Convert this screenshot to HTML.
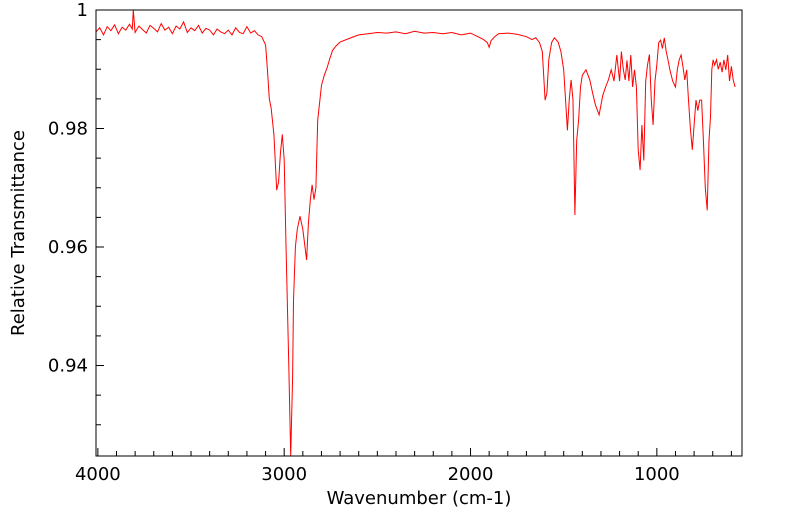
<!DOCTYPE html>
<html><head><meta charset="utf-8"><style>
html,body{margin:0;padding:0;background:#fff;}
svg{display:block;font-family:"DejaVu Sans","Liberation Sans",sans-serif;}
</style></head><body>
<svg id="chart" width="799" height="516" viewBox="0 0 799 516" xmlns="http://www.w3.org/2000/svg">
<g id="ticks"></g>
<g id="labels"></g>
<path id="line" fill="none" stroke="#ff0000" stroke-width="1"/>
<rect x="96" y="10" width="646" height="446" fill="none" stroke="#000" stroke-width="1"/>
<text x="419" y="504" font-size="18" text-anchor="middle">Wavenumber (cm-1)</text>
<text transform="translate(24,233) rotate(-90)" font-size="18" text-anchor="middle">Relative Transmittance</text>
</svg>
<script>
const wavenumbers=[4010,3990,3970,3950,3930,3910,3890,3870,3850,3830,3815,3810,3800,3780,3760,3740,3720,3700,3680,3660,3640,3620,3600,3580,3560,3540,3520,3500,3480,3460,3440,3420,3400,3380,3360,3340,3320,3300,3280,3260,3240,3220,3200,3180,3160,3140,3120,3100,3090,3080,3070,3055,3040,3030,3020,3010,3000,2990,2975,2965,2955,2950,2940,2930,2915,2900,2880,2870,2860,2850,2840,2830,2820,2800,2785,2770,2755,2740,2720,2700,2650,2600,2550,2500,2450,2400,2350,2300,2250,2200,2150,2100,2050,2000,1960,1930,1910,1900,1890,1870,1850,1800,1750,1700,1670,1650,1630,1615,1600,1590,1580,1565,1550,1530,1515,1500,1490,1480,1470,1460,1450,1440,1430,1420,1410,1400,1380,1360,1345,1330,1310,1290,1275,1260,1245,1230,1215,1200,1190,1180,1170,1160,1150,1140,1130,1120,1110,1100,1090,1080,1070,1060,1050,1040,1030,1020,1010,1000,990,980,970,960,950,940,930,915,900,890,880,870,860,850,840,830,820,810,800,790,780,770,760,750,740,730,720,712,705,698,690,680,670,660,650,640,630,620,610,600,590,580,570,560,550,543];
const transmittance=[0.9963,0.9970,0.9958,0.9972,0.9965,0.9975,0.9960,0.9971,0.9966,0.9976,0.9968,1.0000,0.9962,0.9973,0.9967,0.9961,0.9974,0.9969,0.9963,0.9977,0.9966,0.9971,0.9960,0.9973,0.9968,0.9980,0.9962,0.9970,0.9965,0.9974,0.9961,0.9969,0.9966,0.9958,0.9968,0.9963,0.9960,0.9966,0.9958,0.9970,0.9962,0.9960,0.9972,0.9961,0.9965,0.9958,0.9955,0.9941,0.9900,0.9850,0.9835,0.9790,0.9696,0.9710,0.9760,0.9790,0.9747,0.9595,0.9400,0.9247,0.9380,0.9510,0.9600,0.9629,0.9652,0.9630,0.9578,0.9640,0.9679,0.9705,0.9680,0.9700,0.9814,0.9873,0.9890,0.9902,0.9918,0.9932,0.9940,0.9946,0.9952,0.9958,0.9960,0.9962,0.9961,0.9963,0.9960,0.9964,0.9961,0.9962,0.9960,0.9962,0.9958,0.9961,0.9955,0.9950,0.9945,0.9937,0.9948,0.9955,0.9960,0.9961,0.9959,0.9955,0.9950,0.9953,0.9945,0.9930,0.9848,0.9860,0.9916,0.9945,0.9953,0.9946,0.9930,0.9899,0.9850,0.9797,0.9850,0.9882,0.9848,0.9654,0.9780,0.9814,0.9870,0.9890,0.9899,0.9882,0.9860,0.9840,0.9823,0.9856,0.9870,0.9882,0.9899,0.9880,0.9924,0.9880,0.9930,0.9900,0.9882,0.9915,0.9880,0.9924,0.9870,0.9899,0.9870,0.9764,0.9730,0.9806,0.9746,0.9880,0.9907,0.9925,0.9848,0.9806,0.9880,0.9907,0.9945,0.9949,0.9935,0.9953,0.9930,0.9916,0.9899,0.9880,0.9870,0.9899,0.9916,0.9924,0.9905,0.9882,0.9899,0.9848,0.9800,0.9764,0.9806,0.9848,0.9830,0.9848,0.9848,0.9780,0.9700,0.9662,0.9780,0.9820,0.9899,0.9916,0.9907,0.9916,0.9900,0.9912,0.9895,0.9916,0.9899,0.9924,0.9880,0.9905,0.9882,0.9870];
const xTicks=[4000,3000,2000,1000];
const xTickLabels=["4000","3000","2000","1000"];
const yTicks=[1,0.98,0.96,0.94];
const yTickLabels=["1","0.98","0.96","0.94"];
const X0=96,X1=742,Y0=10,Y1=456,WMAX=4010,WMIN=543,TMAX=1,TMIN=0.92473;
function xScale(w){return X0+(WMAX-w)/(WMAX-WMIN)*(X1-X0);}
function yScale(t){return Y0+(TMAX-t)/(TMAX-TMIN)*(Y1-Y0);}
const NS="http://www.w3.org/2000/svg";
let d="";
for(let i=0;i<wavenumbers.length;i++){d+=(i?"L":"M")+xScale(wavenumbers[i]).toFixed(1)+","+Math.min(Y1,yScale(transmittance[i])).toFixed(1);}
document.getElementById('line').setAttribute('d',d);
const tg=document.getElementById('ticks'),lg=document.getElementById('labels');
function ln(x1,y1,x2,y2){const l=document.createElementNS(NS,'line');l.setAttribute('x1',x1);l.setAttribute('y1',y1);l.setAttribute('x2',x2);l.setAttribute('y2',y2);l.setAttribute('stroke','#000');


tg.appendChild(l);}
for(let w=4000;w>=600;w-=100){const x=xScale(w);ln(x,Y1,x,Y1-(w%1000===0?8:5));}
for(let t=1;t>=0.925;t-=0.005){const y=yScale(t);const major=Math.abs(Math.round(t*100)/2-Math.round(t*50))<1e-9&&Math.abs(t*50-Math.round(t*50))<1e-6;ln(X0,y,X0+(major?8:5),y);}
function tx(x,y,s,anchor,name){const t=document.createElementNS(NS,'text');t.setAttribute('x',x);t.setAttribute('y',y);t.setAttribute('font-size','18');t.setAttribute('text-anchor',anchor);t.textContent=s;


lg.appendChild(t);}
xTicks.forEach((w,i)=>tx(xScale(w),480,xTickLabels[i],'middle','x-tick-label'));
yTicks.forEach((v,i)=>tx(X0-8,yScale(v)+6,yTickLabels[i],'end','y-tick-label'));
</script>
</body></html>
